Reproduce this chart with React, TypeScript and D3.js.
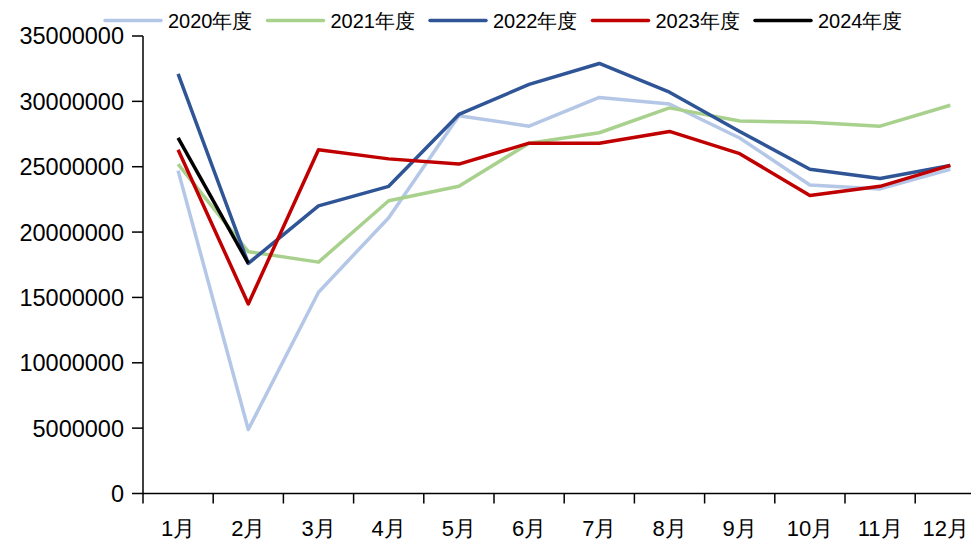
import React from "react";
import * as d3 from "d3";

const months = ["1月", "2月", "3月", "4月", "5月", "6月", "7月", "8月", "9月", "10月", "11月", "12月"];
const yTicks = [0, 5000000, 10000000, 15000000, 20000000, 25000000, 30000000, 35000000];

const s2020 = [24700000, 4900000, 15400000, 21100000, 28900000, 28100000, 30300000, 29800000, 27200000, 23600000, 23300000, 24800000];
const s2021 = [25200000, 18500000, 17700000, 22400000, 23500000, 26800000, 27600000, 29500000, 28500000, 28400000, 28100000, 29700000];
const s2022 = [32100000, 17600000, 22000000, 23500000, 29000000, 31300000, 32900000, 30700000, 27700000, 24800000, 24100000, 25100000];
const s2023 = [26300000, 14500000, 26300000, 25600000, 25200000, 26800000, 26800000, 27700000, 26000000, 22800000, 23500000, 25100000];
const s2024 = [27200000, 17600000];

const seriesNames = ["2020年度", "2021年度", "2022年度", "2023年度", "2024年度"];
const seriesColors = ["#B4C7E7", "#A9D18E", "#2F5597", "#C00000", "#000000"];
const seriesData = [s2020, s2021, s2022, s2023, s2024];

const W = 971;
const H = 542;
const left = 143;
const bandW = 70.2;
const font = "'Liberation Sans', Arial, sans-serif";

export default function App() {
  const x = d3.scaleBand<string>().domain(months).range([left, left + bandW * months.length]).padding(0);
  const y = d3.scaleLinear().domain([0, 35000000]).range([493.5, 36]);
  const line = d3
    .line<number>()
    .x((_, i) => (x(months[i]) as number) + x.bandwidth() / 2)
    .y((d) => y(d));

  return (
    <svg width={W} height={H} style={{ position: "absolute", left: 0, top: 0, background: "#fff" }}>
      {/* y axis */}
      <line x1={left} x2={left} y1={y(35000000)} y2={y(0)} stroke="#000" strokeWidth={1.5} />
      {yTicks.map((t) => (
        <g key={t}>
          <line x1={left - 11} x2={left} y1={y(t)} y2={y(t)} stroke="#000" strokeWidth={1.5} />
          <text x={124} y={y(t)} dy="0.36em" textAnchor="end" fontFamily={font} fontSize={23.5} fill="#000">
            {t}
          </text>
        </g>
      ))}
      {/* x axis */}
      <line x1={left - 1} x2={W} y1={y(0)} y2={y(0)} stroke="#000" strokeWidth={1.5} />
      {months.map((m, i) => {
        const cx = (x(m) as number) + x.bandwidth() / 2;
        const last = i === months.length - 1;
        return (
          <g key={m}>
            <line x1={x(m) as number} x2={x(m) as number} y1={y(0)} y2={y(0) + 10} stroke="#000" strokeWidth={1.5} />
            <text
              x={last ? W - 2 : cx}
              y={528}
              dy="0.36em"
              textAnchor={last ? "end" : "middle"}
              fontFamily={font}
              fontSize={22}
              fill="#000"
            >
              {m}
            </text>
          </g>
        );
      })}
      {/* lines */}
      {seriesData.map((d, i) => (
        <path
          key={seriesNames[i]}
          d={line(d) as string}
          fill="none"
          stroke={seriesColors[i]}
          strokeWidth={3.5}
          strokeLinejoin="round"
        />
      ))}
      {/* legend */}
      {seriesNames.map((n, i) => {
        const lx = 105 + i * 162.5;
        return (
          <g key={n}>
            <line x1={lx} x2={lx + 56} y1={20.5} y2={20.5} stroke={seriesColors[i]} strokeWidth={3.5} strokeLinecap="round" />
            <text x={lx + 63} y={20.5} dy="0.36em" fontFamily={font} fontSize={20} fill="#000">
              {n}
            </text>
          </g>
        );
      })}
    </svg>
  );
}
